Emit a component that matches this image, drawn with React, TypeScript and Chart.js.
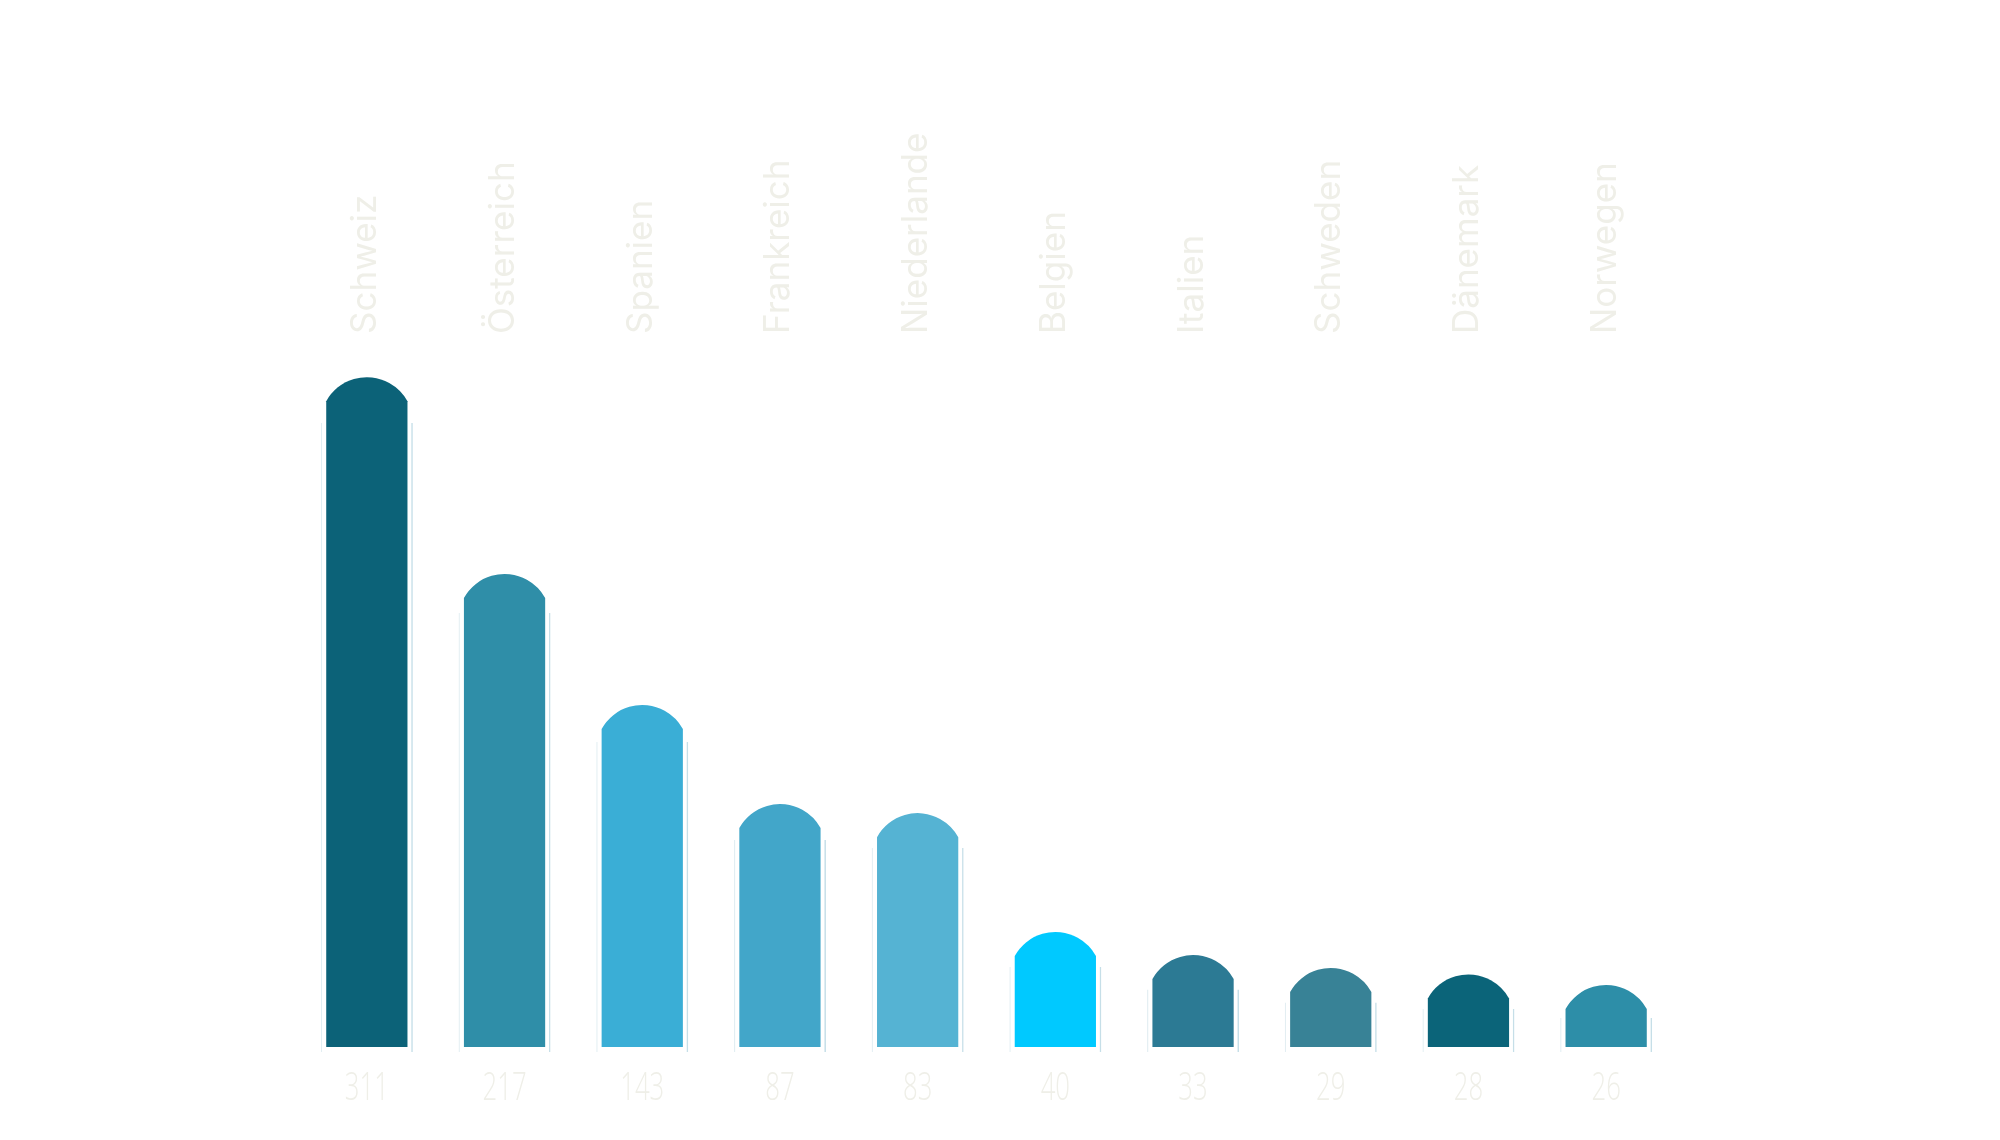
import React, { useEffect, useRef } from "react";
import { Chart, registerables, BarController, BarElement } from "chart.js";

Chart.register(...registerables);

const categories = ["Schweiz", "Österreich", "Spanien", "Frankreich", "Niederlande", "Belgien", "Italien", "Schweden", "Dänemark", "Norwegen"];
const valueLabels = ["311", "217", "143", "87", "83", "40", "33", "29", "28", "26"];
// plotted bar heights as drawn in the picture (same units as the 311 bar)
const barHeights = [311, 219.6, 158.8, 112.8, 108.6, 53.4, 42.7, 36.7, 33.7, 28.8];
// the light outline "shadow" behind each bar
const shadowTops = [289.7, 201.5, 141.6, 96.1, 92.4, 37.2, 26.7, 20.7, 17.7, 13.5];
const shadowBase = -2.3;
const barColors = ["#0c6278", "#2f8ea8", "#3aaed6", "#42a6c9", "#55b3d3", "#00c9ff", "#2c7a94", "#388296", "#0b6479", "#2d8ea8"];

const textColor = "#efefe8";
const domeHeight = 24;

// Bar element whose top is a circular arc (dome) instead of rounded corners
class DomeBar extends (BarElement as any) {
  static id = "domeBar";
  draw(ctx: CanvasRenderingContext2D) {
    const { x, y, base, width } = (this as any).getProps(["x", "y", "base", "width"]);
    const hw = width / 2;
    const top = Math.min(y, base);
    const bottom = Math.max(y, base);
    const sag = Math.min(domeHeight, bottom - top);
    ctx.save();
    ctx.fillStyle = (this as any).options.backgroundColor;
    ctx.beginPath();
    ctx.moveTo(x - hw, bottom);
    if (sag > 0.5) {
      const R = (hw * hw + sag * sag) / (2 * sag);
      const cy = top + R;
      const a1 = Math.atan2(top + sag - cy, -hw);
      const a2 = Math.atan2(top + sag - cy, hw);
      ctx.lineTo(x - hw, top + sag);
      ctx.arc(x, cy, R, a1, a2, false);
    } else {
      ctx.lineTo(x - hw, top);
      ctx.lineTo(x + hw, top);
    }
    ctx.lineTo(x + hw, bottom);
    ctx.closePath();
    ctx.fill();
    ctx.restore();
  }
}

class DomeBarController extends (BarController as any) {
  static id = "domeBar";
  static defaults = { ...(BarController as any).defaults, dataElementType: "domeBar" };
}

Chart.register(DomeBar as any, DomeBarController as any);

const labelPlugin = {
  id: "textLabels",
  afterDraw(chart: any) {
    const ctx = chart.ctx as CanvasRenderingContext2D;
    const xs = chart.scales.x;
    const area = chart.chartArea;
    ctx.save();
    ctx.fillStyle = textColor;
    ctx.font = "35px Inter";
    ctx.textAlign = "left";
    ctx.textBaseline = "alphabetic";
    categories.forEach((c, i) => {
      const x = xs.getPixelForTick(i);
      ctx.save();
      ctx.translate(x + 9.5, area.top - 10);
      ctx.rotate(-Math.PI / 2);
      ctx.fillText(c, 0, 0);
      ctx.restore();
    });
    ctx.font = '300 39px "Open Sans"';
    ctx.textAlign = "center";
    valueLabels.forEach((v, i) => {
      const x = xs.getPixelForTick(i);
      ctx.save();
      ctx.translate(x, area.bottom + 48);
      ctx.scale(0.66, 1);
      ctx.fillText(v, 0, 0);
      ctx.restore();
    });
    ctx.restore();
  },
};

export default function App() {
  const ref = useRef<HTMLCanvasElement | null>(null);
  useEffect(() => {
    if (!ref.current) return;
    const shadow = shadowTops.map((t) => [shadowBase, t]);
    const chart = new Chart(ref.current, {
      type: "bar",
      data: {
        labels: categories,
        datasets: [
          {
            type: "domeBar",
            label: "main",
            data: barHeights,
            backgroundColor: barColors,
            borderWidth: 0,
            barPercentage: 0.59,
            categoryPercentage: 1,
            grouped: false,
            order: 1,
          } as any,
          {
            label: "shadowLeft",
            data: shadow,
            backgroundColor: "rgba(0,0,0,0)",
            borderColor: "#e2eef2",
            borderWidth: { left: 1.2, right: 0, top: 0, bottom: 0 },
            borderSkipped: false,
            barPercentage: 0.668,
            categoryPercentage: 1,
            grouped: false,
            order: 3,
          } as any,
          {
            label: "shadowRight",
            data: shadow,
            backgroundColor: "rgba(0,0,0,0)",
            borderColor: "#c6dfe8",
            borderWidth: { left: 0, right: 1.5, top: 0, bottom: 0 },
            borderSkipped: false,
            barPercentage: 0.668,
            categoryPercentage: 1,
            grouped: false,
            order: 2,
          } as any,
        ],
      },
      options: {
        responsive: false,
        animation: false,
        devicePixelRatio: 1,
        layout: { padding: { left: 298, right: 325, top: 344, bottom: 88 } },
        plugins: { legend: { display: false }, tooltip: { enabled: false } },
        scales: {
          x: {
            type: "category",
            display: false,
          },
          y: {
            display: false,
            min: shadowBase,
            max: 326.4,
          },
        },
      } as any,
      plugins: [labelPlugin],
    });
    return () => chart.destroy();
  }, []);
  return (
    <div style={{ position: "absolute", left: 0, top: 0, width: 2000, height: 1140, background: "#ffffff" }}>
      <canvas ref={ref} width={2000} height={1140} style={{ width: 2000, height: 1140, display: "block" }} />
    </div>
  );
}
